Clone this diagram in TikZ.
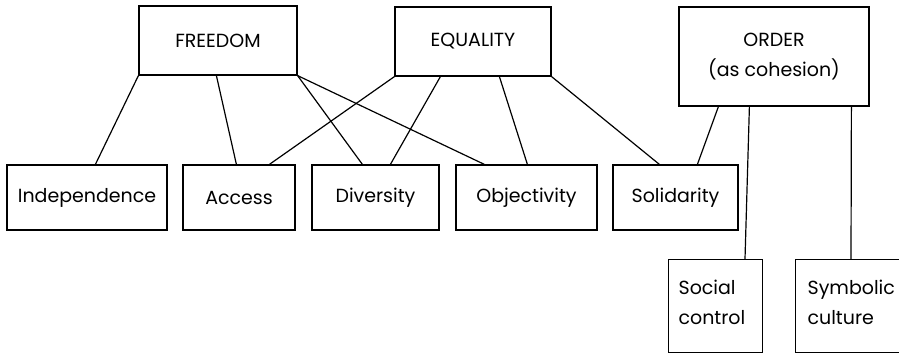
\documentclass[tikz,border=0pt]{standalone}
\usepackage{fontspec}
\setmainfont{Poppins}
\begin{document}
\begin{tikzpicture}[x=1pt,y=-1pt,
  box/.style={draw,line width=1.2pt,inner sep=0pt,font=\fontsize{19}{30}\selectfont},
  link/.style={line width=1.2pt}]
\useasboundingbox (0,0) rectangle (899,354);
\begin{scope}
\clip (0,0) rectangle (899,354);
\node[box,minimum width=158pt,minimum height=69pt] (freedom) at (218,40.5) {FREEDOM};
\node[box,minimum width=156pt,minimum height=69pt] (equality) at (473,41.5) {EQUALITY};
\node[box,minimum width=190pt,minimum height=99pt,align=center] (order) at (774,56.5) {ORDER\\(as cohesion)};
\node[box,minimum width=160pt,minimum height=65pt] (indep) at (87,197.5) {Independence};
\node[box,minimum width=112pt,minimum height=65pt] (access) at (239,197.5) {Access};
\node[box,minimum width=127pt,minimum height=65pt] (diversity) at (375.5,197.5) {Diversity};
\node[box,minimum width=141pt,minimum height=65pt] (objectivity) at (526.5,197.5) {Objectivity};
\node[box,minimum width=125pt,minimum height=65pt] (solidarity) at (675.5,197.5) {Solidarity};
\node[box,minimum width=94pt,minimum height=93pt,text width=94pt,align=left,
  anchor=north west] (social) at (668,259) {\hspace*{10pt}Social\\\hspace*{10pt}control\rule[-8pt]{0pt}{8pt}};
\node[box,minimum width=120pt,minimum height=93pt,text width=120pt,align=left,
  anchor=north west] (symbolic) at (795,259) {\hspace*{12pt}Symbolic\\\hspace*{12pt}culture\rule[-8pt]{0pt}{8pt}};
\end{scope}
\draw[link] (freedom.south west) -- ([xshift=89pt]indep.north west);
\draw[link] ([xshift=78pt]freedom.south west) -- ([xshift=54pt]access.north west);
\draw[link] (freedom.south east) -- ([xshift=51pt]diversity.north west);
\draw[link] (freedom.south east) -- ([xshift=29pt]objectivity.north west);
\draw[link] (equality.south west) -- ([xshift=87pt]access.north west);
\draw[link] ([xshift=46pt]equality.south west) -- ([xshift=79pt]diversity.north west);
\draw[link] ([xshift=105pt]equality.south west) -- ([xshift=72pt]objectivity.north west);
\draw[link] (equality.south east) -- ([xshift=47pt]solidarity.north west);
\draw[link] ([xshift=40pt]order.south west) -- ([xshift=85pt]solidarity.north west);
\draw[link] ([xshift=71pt]order.south west) -- ([xshift=77pt]social.north west);
\draw[link] ([xshift=173pt]order.south west) -- ([xshift=56pt]symbolic.north west);
\end{tikzpicture}
\end{document}
